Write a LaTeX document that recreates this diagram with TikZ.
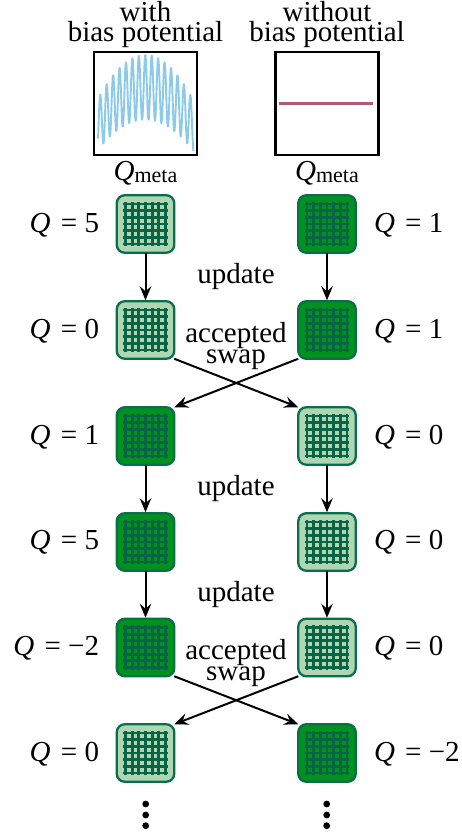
\documentclass[tikz,border=0pt]{standalone}
\usepackage{fontspec}
\setmainfont{Liberation Serif}
\usetikzlibrary{arrows.meta}
\definecolor{latborder}{RGB}{10,110,75}
\definecolor{latgrid}{RGB}{8,100,68}
\definecolor{latlight}{RGB}{175,214,178}
\definecolor{latdark}{RGB}{0,145,30}
\definecolor{bluecurve}{RGB}{140,203,232}
\definecolor{redline}{RGB}{180,90,115}
\newcommand{\latbox}[4]{%
  \node[latbase,#4] (#1) at (#2,#3) {};
  \foreach \k in {-3,...,3}{
    \fill[latgrid] ([shift={(\k*6.67-1.45,-22.3)}]#1.center) rectangle ([shift={(\k*6.67+1.45,22.3)}]#1.center);
    \fill[latgrid] ([shift={(-22.3,\k*6.67-1.45)}]#1.center) rectangle ([shift={(22.3,\k*6.67+1.45)}]#1.center);
  }}
\newcommand{\Qv}[1]{\textit{Q}\hspace{3pt} = #1}
\newcommand{\Qmeta}{\textit{Q}\raisebox{-2.5pt}{\fontsize{22}{20}\selectfont meta}}
\newcommand{\txtfont}{\fontsize{29}{20}\selectfont\setlength{\lineskiplimit}{-100pt}}
\tikzset{
  x=1pt,y=-1pt,
  latbase/.style={draw=latborder,line width=2.3pt,rounded corners=8pt,minimum width=57.5pt,minimum height=57.5pt,inner sep=0pt,outer sep=0pt},
  lightlat/.style={fill=latlight},
  darklat/.style={fill=latdark},
  txt/.style={font=\txtfont,inner sep=0pt,outer sep=0pt,text=black},
  lefttxt/.style={txt,anchor=base east},
  righttxt/.style={txt,anchor=base west},
  midtxt/.style={txt,anchor=base},
  stack/.style={txt,align=center,anchor=center},
  plotbox/.style={draw=black,line width=2.1pt,minimum width=103pt,minimum height=103pt,inner sep=0pt,outer sep=0pt},
  arr/.style={draw=black,line width=2pt,-{Stealth[length=14pt,width=11.5pt,inset=5pt]}},
  dotn/.style={circle,fill=black,minimum size=6.8pt,inner sep=0pt,outer sep=0pt},
}
\begin{document}
\begin{tikzpicture}
\useasboundingbox (0,0) rectangle (462,837);
% headers
\node[stack] (h1) at (145.5,24.5) {with\\bias potential};
\node[stack] (h2) at (327,24.5) {without\\bias potential};
% plots
\node[plotbox] (p1) at (145.5,103.5) {};
\node[plotbox] (p2) at (327,103.5) {};
\draw[bluecurve,line width=1.9pt,line join=round] plot[domain=98:193.5,samples=500]
  (\x,{87.3+38*((\x-145.3)/47.9)*((\x-145.3)/47.9)-(32.3-6.9*((\x-145.3)/47.9)*((\x-145.3)/47.9))*cos(55.9*(\x-145.3))});
\draw[redline,line width=2.1pt] ([xshift=-47.7pt]p2.center) -- ([xshift=45.7pt]p2.center);
\node[midtxt] (q1) at (145.5,180) {\Qmeta};
\node[midtxt] (q2) at (327,180) {\Qmeta};
% lattices
\latbox{a1}{145.5}{224}{lightlat}
\latbox{b1}{327}{224}{darklat}
\latbox{a2}{145.5}{330}{lightlat}
\latbox{b2}{327}{330}{darklat}
\latbox{a3}{145.5}{436}{darklat}
\latbox{b3}{327}{436}{lightlat}
\latbox{a4}{145.5}{542}{darklat}
\latbox{b4}{327}{542}{lightlat}
\latbox{a5}{145.5}{647.5}{darklat}
\latbox{b5}{327}{647.5}{lightlat}
\latbox{a6}{145.5}{753}{lightlat}
\latbox{b6}{327}{753}{darklat}
% Q labels
\node[lefttxt] (l1) at (99,232) {\Qv{5}};
\node[lefttxt] (l2) at (99,338) {\Qv{0}};
\node[lefttxt] (l3) at (99,444) {\Qv{1}};
\node[lefttxt] (l4) at (99,549) {\Qv{5}};
\node[lefttxt] (l5) at (99,655) {\Qv{−2}};
\node[lefttxt] (l6) at (99,761) {\Qv{0}};
\node[righttxt] (r1) at (374,232) {\Qv{1}};
\node[righttxt] (r2) at (374,338) {\Qv{1}};
\node[righttxt] (r3) at (374,444) {\Qv{0}};
\node[righttxt] (r4) at (374,549) {\Qv{0}};
\node[righttxt] (r5) at (374,655) {\Qv{0}};
\node[righttxt] (r6) at (374,761) {\Qv{−2}};
% middle labels
\node[midtxt] (u1) at (236,283) {update};
\node[stack] (s1) at (236,346) {accepted\\[1pt]swap};
\node[midtxt] (u2) at (236,495) {update};
\node[midtxt] (u3) at (236,601) {update};
\node[stack] (s2) at (236,663) {accepted\\[1pt]swap};
% arrows
\draw[arr,shorten >=1pt] (a1) -- (a2);
\draw[arr,shorten >=1pt] (b1) -- (b2);
\draw[arr,shorten >=1pt] (a3) -- (a4);
\draw[arr,shorten >=1pt] (b3) -- (b4);
\draw[arr,shorten >=1pt] (a4) -- (a5);
\draw[arr,shorten >=1pt] (b4) -- (b5);
\draw[arr] (a2.south east) -- (b3.north west);
\draw[arr] (b2.south west) -- (a3.north east);
\draw[arr] (a5.south east) -- (b6.north west);
\draw[arr] (b5.south west) -- (a6.north east);
% dots
\foreach \n/\cx in {a/145.7,b/326.7}{
  \node[dotn] (\n d1) at (\cx,804) {};
  \node[dotn] (\n d2) at (\cx,815) {};
  \node[dotn] (\n d3) at (\cx,825.7) {};
}
\end{tikzpicture}
\end{document}
